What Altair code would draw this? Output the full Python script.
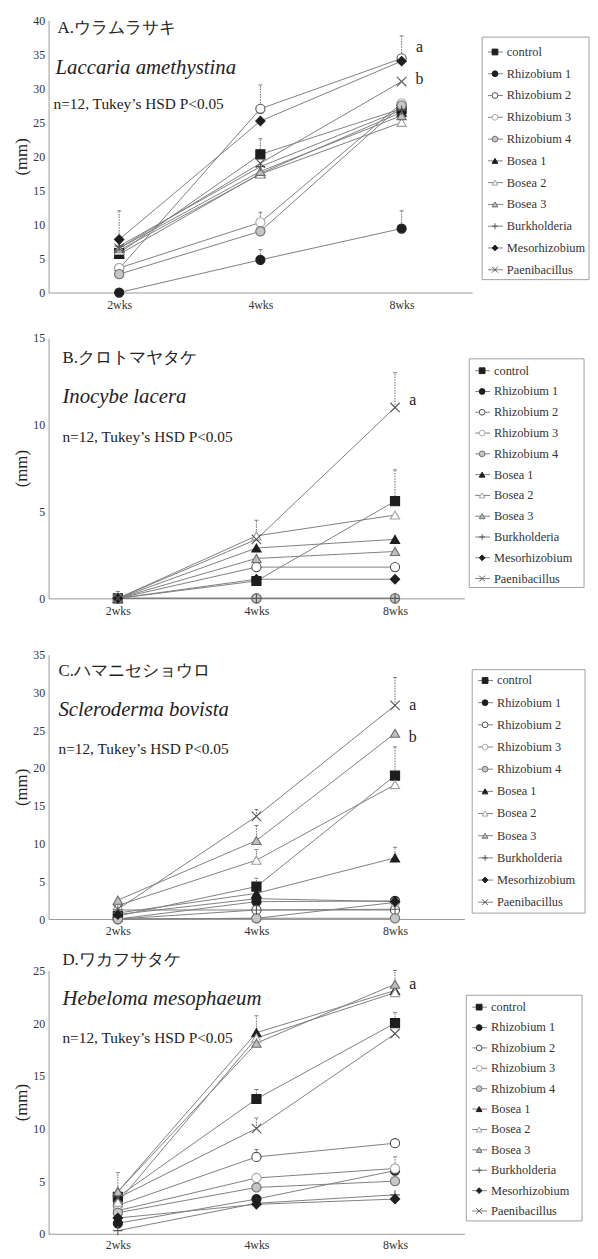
import altair as alt
import pandas as pd

SERIF = "Liberation Serif"

SERIES = ["control", "Rhizobium 1", "Rhizobium 2", "Rhizobium 3", "Rhizobium 4",
          "Bosea 1", "Bosea 2", "Bosea 3", "Burkholderia", "Mesorhizobium", "Paenibacillus"]
WEEKS = ["2wks", "4wks", "8wks"]

SHAPES = ["square", "circle", "circle", "circle", "circle",
          "triangle-up", "triangle-up", "triangle-up",
          "M-1,0L1,0M0,-1L0,1", "diamond", "M-1,-1L1,1M-1,1L1,-1"]
FILLS = ["#1e1e1e", "#1e1e1e", "#ffffff", "#ffffff", "#c6c6c6",
         "#1e1e1e", "#ffffff", "#bebebe", "transparent", "#1e1e1e", "transparent"]
STROKES = ["#1e1e1e", "#1e1e1e", "#4d4d4d", "#a8a8a8", "#707070",
           "#1e1e1e", "#a0a0a0", "#6e6e6e", "#555555", "#1e1e1e", "#555555"]
SIZES = [85, 90, 90, 90, 90, 115, 115, 115, 60, 70, 75]

# ---------------- Panel A ----------------
A_VALUES = {
    "control": [5.8, 20.3, 27.0],
    "Rhizobium 1": [0.0, 4.8, 9.4],
    "Rhizobium 2": [3.5, 27.0, 34.4],
    "Rhizobium 3": [3.6, 10.3, 27.8],
    "Rhizobium 4": [2.7, 9.0, 27.5],
    "Bosea 1": [5.6, 17.5, 26.5],
    "Bosea 2": [6.2, 17.4, 25.0],
    "Bosea 3": [6.5, 17.8, 26.0],
    "Burkholderia": [6.8, 18.5, 26.8],
    "Mesorhizobium": [7.8, 25.2, 34.0],
    "Paenibacillus": [6.5, 19.0, 31.0],
}
A_ERRORS = {
    "control": [None, 2.3, None],
    "Rhizobium 1": [None, 1.5, 2.6],
    "Rhizobium 2": [None, 3.5, 3.3],
    "Rhizobium 3": [None, 1.5, None],
    "Mesorhizobium": [4.2, None, None],
}
A_LETTERS = [("a", 36.0), ("b", 31.3)]
A_TEXT = ["A.ウラムラサキ", "Laccaria amethystina", "n=12, Tukey’s HSD P<0.05"]

# ---------------- Panel B ----------------
B_VALUES = {
    "control": [0.0, 1.0, 5.6],
    "Rhizobium 1": [0.0, 0.0, 0.0],
    "Rhizobium 2": [0.0, 1.8, 1.8],
    "Rhizobium 3": [0.0, 0.0, 0.0],
    "Rhizobium 4": [0.0, 0.0, 0.0],
    "Bosea 1": [0.0, 2.9, 3.4],
    "Bosea 2": [0.0, 3.6, 4.8],
    "Bosea 3": [0.0, 2.3, 2.7],
    "Burkholderia": [0.0, 0.0, 0.0],
    "Mesorhizobium": [0.0, 1.1, 1.1],
    "Paenibacillus": [0.0, 3.4, 11.0],
}
B_ERRORS = {
    "control": [None, None, 1.8],
    "Bosea 2": [None, 0.9, None],
    "Paenibacillus": [0.4, None, 2.0],
}
B_LETTERS = [("a", 11.4)]
B_TEXT = ["B.クロトマヤタケ", "Inocybe lacera", "n=12, Tukey’s HSD P<0.05"]

# ---------------- Panel C ----------------
C_VALUES = {
    "control": [0.4, 4.3, 19.0],
    "Rhizobium 1": [0.0, 2.3, 2.4],
    "Rhizobium 2": [0.0, 1.2, 1.2],
    "Rhizobium 3": [0.0, 0.1, 2.2],
    "Rhizobium 4": [0.0, 0.1, 0.1],
    "Bosea 1": [0.8, 3.4, 8.1],
    "Bosea 2": [1.8, 7.8, 17.8],
    "Bosea 3": [2.5, 10.4, 24.6],
    "Burkholderia": [1.2, 1.2, 1.3],
    "Mesorhizobium": [0.6, 2.7, 2.3],
    "Paenibacillus": [1.3, 13.6, 28.3],
}
C_ERRORS = {
    "control": [None, 1.1, 3.8],
    "Bosea 1": [None, None, 1.4],
    "Bosea 2": [None, 1.4, None],
    "Bosea 3": [None, 2.0, None],
    "Paenibacillus": [None, 0.9, 3.7],
}
C_LETTERS = [("a", 28.4), ("b", 24.1)]
C_TEXT = ["C.ハマニセショウロ", "Scleroderma bovista", "n=12, Tukey’s HSD P<0.05"]

# ---------------- Panel D ----------------
D_VALUES = {
    "control": [3.5, 12.8, 20.0],
    "Rhizobium 1": [1.0, 3.3, 6.0],
    "Rhizobium 2": [2.7, 7.3, 8.6],
    "Rhizobium 3": [2.2, 5.3, 6.2],
    "Rhizobium 4": [2.0, 4.4, 5.0],
    "Bosea 1": [4.0, 19.1, 23.1],
    "Bosea 2": [3.0, 18.6, 22.9],
    "Bosea 3": [4.0, 18.1, 23.7],
    "Burkholderia": [0.3, 2.9, 3.7],
    "Mesorhizobium": [1.5, 2.8, 3.3],
    "Paenibacillus": [3.4, 10.0, 19.0],
}
D_ERRORS = {
    "control": [None, 0.9, 1.0],
    "Rhizobium 2": [None, 0.7, None],
    "Rhizobium 3": [None, None, 1.1],
    "Bosea 1": [None, 1.6, None],
    "Bosea 3": [1.8, None, 1.3],
    "Paenibacillus": [None, 1.0, None],
}
D_LETTERS = [("a", 23.7)]
D_TEXT = ["D.ワカフサタケ", "Hebeloma mesophaeum", "n=12, Tukey’s HSD P<0.05"]

# layout: ymax, plot width, plot height, row height, x-label padding,
# text positions [(x, y) x3], legend box (x0, x1, y0, y1), legend rows (first, last)
LAYOUT = [
    dict(ymax=40, w=428, h=275, row=321, lp=7, tp=[(9, 8), (7, 48), (5, 85)],
         box=(10, 118, 17, 262), rows=(32, 252)),
    dict(ymax=15, w=420, h=263, row=320, lp=7, tp=[(14, 20), (14, 60), (14, 100)],
         box=(-3, 113, 21, 252), rows=(33, 243)),
    dict(ymax=35, w=420, h=267, row=319, lp=7, tp=[(10, 16), (10, 56), (10, 95)],
         box=(0, 114, 15, 261), rows=(26, 250)),
    dict(ymax=25, w=420, h=266, row=266, lp=6, tp=[(14, -11), (14, 29), (14, 68)],
         box=(-6, 111, 25, 253), rows=(37, 243)),
]
LEGEND_W = 118

shape_enc = alt.Shape("series:N", scale=alt.Scale(domain=SERIES, range=SHAPES), legend=None)
fill_enc = alt.Fill("series:N", scale=alt.Scale(domain=SERIES, range=FILLS), legend=None)
stroke_enc = alt.Stroke("series:N", scale=alt.Scale(domain=SERIES, range=STROKES), legend=None)
size_enc = alt.Size("series:N", scale=alt.Scale(domain=SERIES, range=SIZES), legend=None)


def make_panel(values, errors, letters, texts, L):
    rows = []
    for s in SERIES:
        for w, v in zip(WEEKS, values[s]):
            rows.append({"series": s, "week": w, "value": v})
    df = pd.DataFrame(rows)
    erows = []
    for s, errs in errors.items():
        for w, v, e in zip(WEEKS, values[s], errs):
            if e is not None:
                erows.append({"series": s, "week": w, "value": v, "upper": v + e})
    edf = pd.DataFrame(erows)
    ldf = pd.DataFrame({"letter": [l for l, _ in letters],
                        "value": [v for _, v in letters],
                        "week": ["8wks"] * len(letters)})

    X = alt.X("week:O", scale=alt.Scale(type="point", domain=WEEKS, padding=0.5),
              axis=alt.Axis(title=None, labelAngle=0, tickSize=0, labelPadding=L["lp"]))

    def Y(field):
        return alt.Y(f"{field}:Q", scale=alt.Scale(domain=[0, L["ymax"]], nice=False),
                     axis=alt.Axis(title="(mm)", values=list(range(0, L["ymax"] + 1, 5)),
                                   tickSize=0, labelPadding=4, titlePadding=2, grid=False))

    lines = alt.Chart(df).mark_line(color="#808080", strokeWidth=1).encode(
        x=X, y=Y("value"), detail="series:N")
    ebar = alt.Chart(edf).mark_rule(color="#777777", strokeWidth=1.1, strokeDash=[1.5, 1.2]).encode(
        x=X, y=Y("value"), y2="upper:Q")
    ecap = alt.Chart(edf).mark_tick(orient="horizontal", size=4, thickness=1, color="#777777",
                                    opacity=1).encode(x=X, y=Y("upper"))
    pts = alt.Chart(df).mark_point(opacity=1, strokeWidth=1.1).encode(
        x=X, y=Y("value"), shape=shape_enc, fill=fill_enc, stroke=stroke_enc, size=size_enc)
    lets = alt.Chart(ldf).mark_text(dx=18, align="center", baseline="middle", font=SERIF,
                                    fontSize=16, color="#222222").encode(
        x=X, y=Y("value"), text="letter:N")

    styles = [dict(fontSize=17, fontStyle="normal"),
              dict(fontSize=21, fontStyle="italic"),
              dict(fontSize=15.5, fontStyle="normal")]
    tlayers = []
    for t, (tx, ty), st in zip(texts, L["tp"], styles):
        tlayers.append(
            alt.Chart(pd.DataFrame({"t": [t]})).mark_text(
                align="left", baseline="middle", font=SERIF, color="#222222", **st
            ).encode(x=alt.value(tx), y=alt.value(ty), text="t:N"))

    plot = alt.layer(lines, ebar, ecap, pts, lets, *tlayers).properties(
        width=L["w"], height=L["h"])

    # legend
    leg = pd.DataFrame({"series": SERIES})
    bx0, bx1, by0, by1 = L["box"]
    LY = alt.Y("series:N", scale=alt.Scale(type="point", domain=SERIES,
                                           range=list(L["rows"]), padding=0), axis=None)
    box = alt.Chart(pd.DataFrame({"k": [0]})).mark_rect(
        fill="white", stroke="#a0a0a0", strokeWidth=1).encode(
        x=alt.value(bx0), x2=alt.value(bx1), y=alt.value(by0), y2=alt.value(by1))
    seg = alt.Chart(leg).mark_rule(color="#808080", strokeWidth=1).encode(
        x=alt.value(bx0 + 6), x2=alt.value(bx0 + 21), y=LY)
    sym = alt.Chart(leg).mark_point(opacity=1, size=34, strokeWidth=1).encode(
        x=alt.value(bx0 + 13), y=LY, shape=shape_enc, fill=fill_enc, stroke=stroke_enc)
    txt = alt.Chart(leg).mark_text(align="left", baseline="middle", font=SERIF,
                                   fontSize=12.5, color="#333333").encode(
        x=alt.value(bx0 + 25), y=LY, text="series:N")
    legend = alt.layer(box, seg, sym, txt).properties(width=LEGEND_W, height=L["row"])
    return plot, legend


panels = [
    (A_VALUES, A_ERRORS, A_LETTERS, A_TEXT),
    (B_VALUES, B_ERRORS, B_LETTERS, B_TEXT),
    (C_VALUES, C_ERRORS, C_LETTERS, C_TEXT),
    (D_VALUES, D_ERRORS, D_LETTERS, D_TEXT),
]

charts = []
for (v, e, l, t), L in zip(panels, LAYOUT):
    p, lg = make_panel(v, e, l, t, L)
    charts += [p, lg]

chart = alt.concat(*charts, columns=2, spacing=0, bounds="flush").properties(
    padding={"left": 5, "top": 0, "right": 0, "bottom": 0}
).configure_view(stroke=None).configure_axis(
    domainColor="#999999", labelColor="#333333", labelFont=SERIF, labelFontSize=12,
    titleFont=SERIF, titleFontSize=17, titleFontWeight="normal", titleColor="#222222"
)

chart.save("out.html", embed_options={"renderer": "svg", "actions": False})
